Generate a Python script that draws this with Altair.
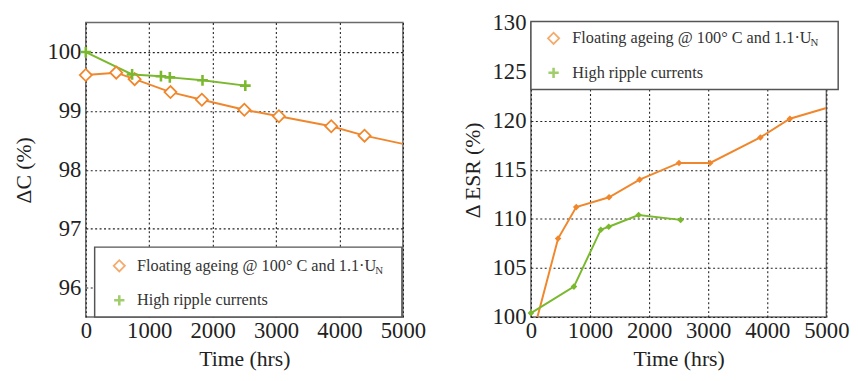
import altair as alt
import pandas as pd

# ---------------- data ----------------
time_ticks = [0, 1000, 2000, 3000, 4000, 5000]
c_ticks = [96, 97, 98, 99, 100]
esr_ticks = [100, 105, 110, 115, 120, 125, 130]

# Capacitance, floating ageing (orange diamonds)
c_float_t = [0, 480, 770, 1335, 1830, 2500, 3045, 3870, 4395]
c_float_v = [99.61, 99.65, 99.54, 99.32, 99.19, 99.02, 98.91, 98.74, 98.58]
c_float_tail_t = [5000]
c_float_tail_v = [98.44]

# Capacitance, high ripple currents (green crosses)
c_ripple_t = [0, 730, 1185, 1325, 1840, 2515]
c_ripple_v = [100.0, 99.62, 99.59, 99.57, 99.52, 99.43]

# ESR, floating ageing
esr_float_t = [460, 767, 1322, 1839, 2506, 3033, 3883, 4383]
esr_float_v = [108.0, 111.2, 112.2, 114.0, 115.7, 115.7, 118.3, 120.2]
esr_float_head_t = [110]
esr_float_head_v = [100.0]
esr_float_tail_t = [5000]
esr_float_tail_v = [121.3]

# ESR, high ripple currents
esr_ripple_t = [0, 728, 1183, 1317, 1822, 2533]
esr_ripple_v = [100.4, 103.1, 108.9, 109.2, 110.4, 109.9]

legend_labels = ["Floating ageing @ 100° C and 1.1·U", "High ripple currents"]
legend_sub = "N"

ORANGE = "#F0872C"
GREEN = "#7AB92E"
FONT = "Liberation Serif"
PLUS = "M -1 0 L 1 0 M 0 -1 L 0 1"

W1, W2, H = 322, 300, 299

# ---------------- tables ----------------
c_float_markers = pd.DataFrame({"t": c_float_t, "v": c_float_v})
c_float_line = pd.DataFrame({"t": c_float_t + c_float_tail_t, "v": c_float_v + c_float_tail_v})
c_ripple = pd.DataFrame({"t": c_ripple_t, "v": c_ripple_v})

esr_float_markers = pd.DataFrame({"t": esr_float_t, "v": esr_float_v})
esr_float_line = pd.DataFrame({
    "t": esr_float_head_t + esr_float_t + esr_float_tail_t,
    "v": esr_float_head_v + esr_float_v + esr_float_tail_v,
})
esr_ripple = pd.DataFrame({"t": esr_ripple_t, "v": esr_ripple_v})

one = pd.DataFrame({"k": [0]})

AX = dict(
    labelFont=FONT, labelFontSize=23, labelColor="#222", labelFontWeight="normal",
    titleFont=FONT, titleFontSize=22, titleFontWeight="normal", titleColor="#222",
    domain=False, ticks=False, labelOverlap=False, labelFlush=False, format="d",
    grid=True, gridColor="#222", gridDash=[2, 2.5], gridWidth=1.1, gridOpacity=1,
)

xscale = alt.Scale(domain=[0, 5000], nice=False)
xaxis = alt.Axis(values=time_ticks, title="Time (hrs)", labelPadding=3, titlePadding=6, **AX)


def legend_layers(x0, x1, y0, y1, sx, tx, y_first, y_second):
    box = alt.Chart(one).mark_rect(fill="white", stroke="#555", strokeWidth=1.5).encode(
        x=alt.value(x0), x2=alt.value(x1), y=alt.value(y0), y2=alt.value(y1))
    dia = alt.Chart(one).mark_point(shape="diamond", size=130, filled=False,
                                    stroke=ORANGE, strokeWidth=1.8).encode(
        x=alt.value(sx), y=alt.value(y_first))
    plus = alt.Chart(one).mark_point(shape=PLUS, size=110, filled=False,
                                     stroke=GREEN, strokeWidth=2.6).encode(
        x=alt.value(sx), y=alt.value(y_second))
    t1 = alt.Chart(one).mark_text(align="left", baseline="middle", font=FONT,
                                  fontSize=16.5, color="#333").encode(
        x=alt.value(tx), y=alt.value(y_first), text=alt.value(legend_labels[0]))
    tsub = alt.Chart(one).mark_text(align="left", baseline="middle", font=FONT,
                                    fontSize=11, color="#333").encode(
        x=alt.value(tx + 242), y=alt.value(y_first + 5), text=alt.value(legend_sub))
    t2 = alt.Chart(one).mark_text(align="left", baseline="middle", font=FONT,
                                  fontSize=16.5, color="#333").encode(
        x=alt.value(tx), y=alt.value(y_second), text=alt.value(legend_labels[1]))
    return [box, dia, plus, t1, tsub, t2]


# ---------------- left: capacitance ----------------
yc = alt.Scale(domain=[95.5, 100.5], nice=False)
yc_axis = alt.Axis(values=c_ticks, title="ΔC (%)", labelPadding=5, titlePadding=12, **AX)

cl1 = alt.Chart(c_float_line).mark_line(color=ORANGE, strokeWidth=2, clip=True).encode(
    x=alt.X("t:Q", scale=xscale, axis=xaxis),
    y=alt.Y("v:Q", scale=yc, axis=yc_axis))
cm1 = alt.Chart(c_float_markers).mark_point(shape="diamond", size=150, filled=True,
                                             fill="white", stroke=ORANGE,
                                             strokeWidth=1.8, opacity=1).encode(
    x="t:Q", y="v:Q")
cl2 = alt.Chart(c_ripple).mark_line(color=GREEN, strokeWidth=2, clip=True).encode(
    x="t:Q", y="v:Q")
cm2 = alt.Chart(c_ripple).mark_point(shape=PLUS, size=120, filled=False,
                                     stroke=GREEN, strokeWidth=2.6, opacity=1).encode(
    x="t:Q", y="v:Q")

left = alt.layer(
    cl1, cl2, cm1, cm2,
    *legend_layers(9, W1 - 1, H - 71, H, 34, 52, H - 52, H - 17)
).properties(width=W1, height=H)

# ---------------- right: ESR ----------------
ye = alt.Scale(domain=[100, 130], nice=False)
ye_axis = alt.Axis(values=esr_ticks, title="Δ ESR (%)", labelPadding=5, titlePadding=8, **AX)

el1 = alt.Chart(esr_float_line).mark_line(color=ORANGE, strokeWidth=2, clip=True).encode(
    x=alt.X("t:Q", scale=xscale, axis=xaxis),
    y=alt.Y("v:Q", scale=ye, axis=ye_axis))
em1 = alt.Chart(esr_float_markers).mark_point(shape="diamond", size=45, filled=True,
                                               color=ORANGE, opacity=1).encode(
    x="t:Q", y="v:Q")
el2 = alt.Chart(esr_ripple).mark_line(color=GREEN, strokeWidth=2, clip=True).encode(
    x="t:Q", y="v:Q")
em2 = alt.Chart(esr_ripple).mark_point(shape="diamond", size=45, filled=True,
                                       color=GREEN, opacity=1).encode(
    x="t:Q", y="v:Q")

right = alt.layer(
    el1, el2, em1, em2,
    *legend_layers(0, 312, -1, 68, 23, 42, 16, 51)
).properties(width=W2, height=H)

chart = alt.hconcat(left, right, spacing=130, bounds="flush").properties(
    padding={"top": 0, "left": 3, "right": 0, "bottom": 0}
).configure_view(
    stroke="#6a6a6a", strokeWidth=1.5
)

chart.save("out.html", embed_options={"renderer": "svg", "actions": False})
